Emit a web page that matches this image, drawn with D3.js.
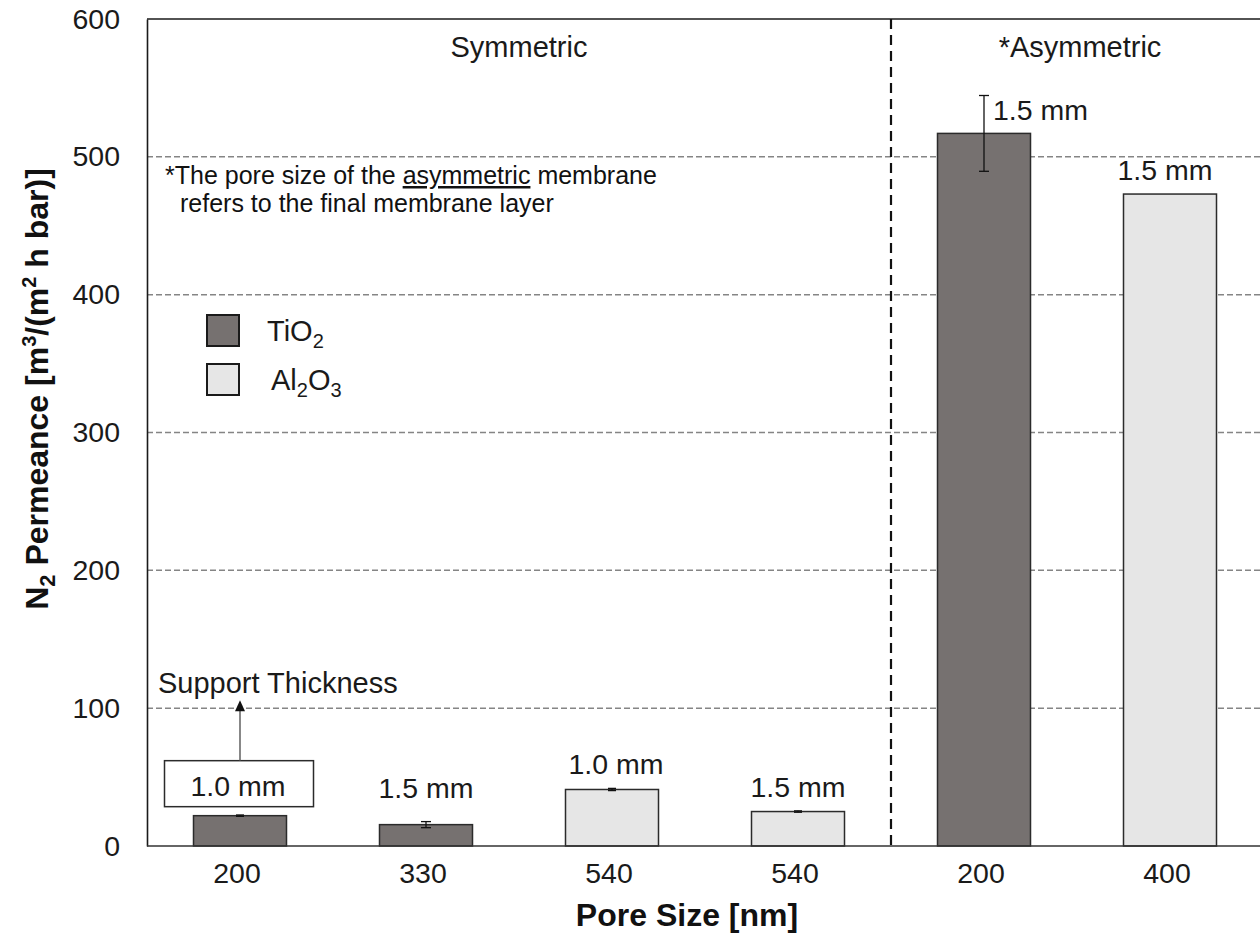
<!DOCTYPE html>
<html>
<head>
<meta charset="utf-8">
<script src="https://cdn.jsdelivr.net/npm/d3@7"></script>
<style>
  html, body { margin: 0; padding: 0; background: #fff; }
  svg { display: block; font-family: "Liberation Sans", Arial, sans-serif; }
</style>
</head>
<body>
<svg id="chart" width="1260" height="936"></svg>
<script>
// N2 permeance of TiO2 and Al2O3 membrane supports
const poreSizes = ["200", "330", "540", "540", "200", "400"];
const materials = ["TiO2", "TiO2", "Al2O3", "Al2O3", "TiO2", "Al2O3"];
const permeance = [22, 15.5, 41, 25, 517, 473];
const errors = [0.5, 2.2, 0.8, 0.5, 27.5, 0];
const thickness = ["1.0 mm", "1.5 mm", "1.0 mm", "1.5 mm", "1.5 mm", "1.5 mm"];
const groups = ["Symmetric", "*Asymmetric"];
const groupSizes = [4, 2];
const yTicks = [0, 100, 200, 300, 400, 500, 600];

const fills = { TiO2: "#767170", Al2O3: "#e6e6e6" };
const FONT = "Liberation Sans, Arial, sans-serif";

const svg = d3.select("#chart");
const margin = { left: 147, top: 19, right: -3, bottom: 90 };
const W = 1260, H = 936;
const x0 = margin.left, x1 = W - margin.right;
const yTop = margin.top, yBot = H - margin.bottom;

const x = d3.scaleBand()
  .domain(d3.range(permeance.length))
  .range([x0, x1])
  .paddingInner(0.5)
  .paddingOuter(0.25);
const step = x.step();

const y = d3.scaleLinear().domain([0, 600]).range([yBot, yTop]);

// horizontal dashed gridlines
svg.append("g")
  .selectAll("line")
  .data(yTicks.filter(t => t > 0 && t < 600))
  .join("line")
  .attr("x1", x0).attr("x2", x1)
  .attr("y1", d => y(d)).attr("y2", d => y(d))
  .attr("stroke", "#858585")
  .attr("stroke-width", 1.5)
  .attr("stroke-dasharray", "6,3");

// y axis with tick labels
const yAxis = svg.append("g")
  .attr("transform", `translate(${x0},0)`)
  .call(d3.axisLeft(y).tickValues(yTicks).tickSize(0).tickPadding(27));
yAxis.select(".domain").attr("stroke", "#1a1a1a").attr("stroke-width", 1.6);
yAxis.selectAll("text")
  .attr("font-size", 28.5)
  .attr("fill", "#1a1a1a")
  .attr("font-family", FONT);

// top frame
svg.append("line")
  .attr("x1", x0).attr("x2", x1).attr("y1", yTop).attr("y2", yTop)
  .attr("stroke", "#1a1a1a").attr("stroke-width", 1.6);

// bars
svg.append("g")
  .selectAll("rect")
  .data(permeance)
  .join("rect")
  .attr("x", (d, i) => x(i))
  .attr("width", x.bandwidth())
  .attr("y", d => y(d))
  .attr("height", d => yBot - y(d))
  .attr("fill", (d, i) => fills[materials[i]])
  .attr("stroke", "#2b2b2b")
  .attr("stroke-width", 1.5);

// baseline
svg.append("line")
  .attr("x1", x0).attr("x2", x1).attr("y1", yBot).attr("y2", yBot)
  .attr("stroke", "#333").attr("stroke-width", 1.4);

// error bars
const eg = svg.append("g").attr("stroke", "#111").attr("stroke-width", 1.3);
permeance.forEach((v, i) => {
  const e = errors[i];
  if (e <= 0) return;
  const cx = x(i) + x.bandwidth() / 2;
  const capW = e > 2 ? 5 : 4;
  eg.append("line").attr("x1", cx).attr("x2", cx).attr("y1", y(v - e)).attr("y2", y(v + e));
  eg.append("line").attr("x1", cx - capW).attr("x2", cx + capW).attr("y1", y(v - e)).attr("y2", y(v - e));
  eg.append("line").attr("x1", cx - capW).attr("x2", cx + capW).attr("y1", y(v + e)).attr("y2", y(v + e));
});

// group divider
const divX = x0 + step * groupSizes[0];
svg.append("line")
  .attr("x1", divX).attr("x2", divX).attr("y1", yTop).attr("y2", yBot)
  .attr("stroke", "#111").attr("stroke-width", 2.2)
  .attr("stroke-dasharray", "10,6");

// group titles
const groupCenters = [(x0 + divX) / 2, divX + step * groupSizes[1] / 2 + 3];
svg.append("g")
  .selectAll("text")
  .data(groups)
  .join("text")
  .attr("x", (d, i) => groupCenters[i])
  .attr("y", 57)
  .attr("text-anchor", "middle")
  .attr("font-size", 29)
  .attr("fill", "#1a1a1a")
  .text(d => d);

// thickness labels above bars
const labelLayout = {
  0: { boxed: true },
  1: { dy: -10 },
  2: { dx: 4 },
  5: { dx: -5 },
  4: { anchor: "start", dx: 9, fromTop: true }
};
const lg = svg.append("g").attr("font-size", 28.5).attr("fill", "#1a1a1a");
thickness.forEach((t, i) => {
  const lay = labelLayout[i] || {};
  const cx = x(i) + x.bandwidth() / 2;
  if (lay.boxed) {
    const bw = 149, bh = 46, by = y(permeance[i]) - 55;
    lg.append("rect")
      .attr("x", cx - bw / 2 - 1).attr("y", by)
      .attr("width", bw).attr("height", bh)
      .attr("fill", "#fff").attr("stroke", "#2b2b2b").attr("stroke-width", 1.5);
    lg.append("text").attr("x", cx - 2).attr("y", by + 35)
      .attr("text-anchor", "middle").text(t);
    // arrow pointing to the annotation text
    const ay = y(100) - 8;
    lg.append("line").attr("x1", cx).attr("x2", cx).attr("y1", by).attr("y2", ay + 10)
      .attr("stroke", "#555").attr("stroke-width", 1.4);
    lg.append("path")
      .attr("d", `M${cx - 5},${ay + 11} L${cx + 5},${ay + 11} L${cx},${ay} Z`)
      .attr("fill", "#111");
    lg.append("text").attr("x", 158).attr("y", 693).attr("font-size", 29)
      .text("Support Thickness");
    return;
  }
  let ty;
  if (lay.fromTop) ty = y(permeance[i]) - 13;
  else ty = y(permeance[i] + errors[i]) - 14 + (lay.dy || 0);
  lg.append("text")
    .attr("x", cx + (lay.dx || 0))
    .attr("y", ty)
    .attr("text-anchor", lay.anchor || "middle")
    .text(t);
});

// x axis tick labels
const xAxis = svg.append("g")
  .attr("transform", `translate(0,${yBot})`)
  .call(d3.axisBottom(x).tickFormat(i => poreSizes[i]).tickSize(0));
xAxis.select(".domain").remove();
xAxis.selectAll("text")
  .attr("font-size", 28.5)
  .attr("fill", "#1a1a1a")
  .attr("y", 37)
  .attr("dy", 0)
  .attr("dx", -3)
  .attr("font-family", FONT);

// axis titles
svg.append("text")
  .attr("x", 687).attr("y", 926)
  .attr("text-anchor", "middle")
  .attr("font-size", 32).attr("font-weight", "bold").attr("fill", "#111")
  .text("Pore Size [nm]");

const yt = svg.append("text")
  .attr("text-anchor", "start")
  .attr("font-size", 32).attr("font-weight", "bold").attr("fill", "#111");
yt.append("tspan").text("N");
yt.append("tspan").attr("font-size", 22).attr("dy", 7).text("2");
yt.append("tspan").attr("dy", -7).text(" Permeance [m");
yt.append("tspan").attr("font-size", 20).attr("dy", -12).text("3");
yt.append("tspan").attr("dy", 12).text("/(m");
yt.append("tspan").attr("font-size", 20).attr("dy", -12).text("2");
yt.append("tspan").attr("dy", 12).text(" h bar)]");
// center the rotated title on its column
const ytLen = yt.node().getComputedTextLength();
yt.attr("transform", `translate(48,${389 + ytLen / 2}) rotate(-90)`);

// footnote
const note = svg.append("g").attr("font-size", 25).attr("fill", "#111");
const n1 = note.append("text").attr("x", 165).attr("y", 184);
n1.append("tspan").text("*The pore size of the ");
n1.append("tspan").attr("text-decoration", "underline").text("asymmetric");
n1.append("tspan").text(" membrane");
note.append("text").attr("x", 180).attr("y", 212).text("refers to the final membrane layer");

// legend
const legendItems = [
  { key: "TiO2", parts: [["Ti", 0], ["O", 0], ["2", 1]] },
  { key: "Al2O3", parts: [["Al", 0], ["2", 1], ["O", 0], ["3", 1]] }
];
const leg = svg.append("g");
legendItems.forEach((it, k) => {
  const ly = 315 + k * 49;
  leg.append("rect").attr("x", 207).attr("y", ly).attr("width", 32).attr("height", 31)
    .attr("fill", fills[it.key]).attr("stroke", "#1a1a1a").attr("stroke-width", 2);
  const t = leg.append("text").attr("x", 267 + k * 4).attr("y", ly + 26)
    .attr("font-size", 29).attr("fill", "#1a1a1a");
  let sub = false;
  it.parts.forEach(([s, isSub]) => {
    const ts = t.append("tspan").text(s);
    if (isSub && !sub) { ts.attr("font-size", 20).attr("dy", 7); sub = true; }
    else if (!isSub && sub) { ts.attr("dy", -7); sub = false; }
  });
});
</script>
</body>
</html>
